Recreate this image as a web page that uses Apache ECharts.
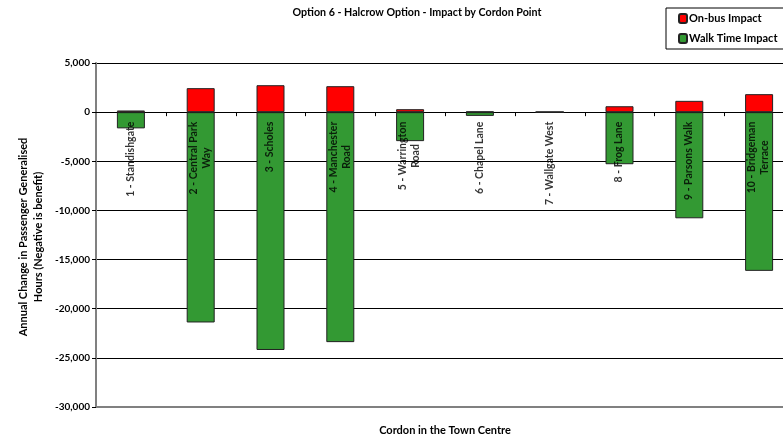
<!DOCTYPE html>
<html><head><meta charset="utf-8">
<script src="https://cdn.jsdelivr.net/npm/echarts@6/dist/echarts.min.js"></script>
<style>html,body{margin:0;padding:0;background:#fff}#c{width:783px;height:440px}</style>
</head><body><div id="c"></div>
<script>
const categories = ['1 - Standishgate', '2 - Central Park\nWay', '3 - Scholes', '4 - Manchester\nRoad', '5 - Warrington\nRoad', '6 - Chapel Lane', '7 - Wallgate West', '8 - Frog Lane', '9 - Parsons Walk', '10 - Bridgeman\nTerrace'];
const onBus = [170, 2440, 2740, 2640, 300, 60, 0, 600, 1150, 1830];
const walkTime = [-1650, -21400, -24200, -23400, -2950, -380, 0, -5300, -10800, -16150];
const yTicks = { min: -30000, max: 5000, interval: 5000 };
const crossValue = 0; // category axis crosses the value axis at zero

const FONT = 'Lato';
const chart = echarts.init(document.getElementById('c'));
chart.setOption({
  animation: false,
  backgroundColor: '#fff',
  textStyle: { fontFamily: FONT },
  title: {
    text: 'Option 6 - Halcrow Option - Impact by Cordon Point',
    left: 412, top: 2, textAlign: 'center',
    textStyle: { fontSize: 10.7, fontWeight: 'bold', color: '#000', fontFamily: FONT }
  },
  legend: {
    orient: 'vertical', left: 666, top: 8,
    itemWidth: 8, itemHeight: 9, itemGap: 9,
    borderColor: '#000', borderWidth: 1, padding: [5, 10, 5, 12],
    backgroundColor: '#fff',
    textStyle: { fontSize: 11, fontWeight: 'bold', color: '#000', fontFamily: FONT, padding: [0, 0, 0, -3] },
    data: ['On-bus Impact', 'Walk Time Impact']
  },
  grid: { left: 96, right: -11, top: 63, bottom: 33, containLabel: false, outerBoundsMode: 'none' },
  xAxis: {
    type: 'category', data: categories,
    axisLine: { show: true, onZero: true, lineStyle: { color: '#000', width: 1 } },
    axisTick: { show: false },
    axisLabel: { show: false }
  },
  yAxis: {
    type: 'value', min: yTicks.min, max: yTicks.max, interval: yTicks.interval,
    axisLine: { show: true, lineStyle: { color: '#808080', width: 2 } },
    axisTick: { show: true, length: 4, lineStyle: { color: '#000' } },
    splitLine: { lineStyle: { color: '#000', width: 1 } },
    axisLabel: {
      color: '#000', fontSize: 10, fontWeight: 'bold', fontFamily: FONT, margin: 6,
      formatter: v => v.toLocaleString('en-US')
    }
  },
  graphic: [{
    type: 'text', x: 31, y: 237, rotation: Math.PI / 2,
    style: {
      text: 'Annual Change in Passenger Generalised\nHours (Negative is benefit)',
      align: 'center', verticalAlign: 'middle', font: 'bold 11px ' + FONT,
      fill: '#000', lineHeight: 15
    }
  }, {
    type: 'text', x: 445, y: 430,
    style: {
      text: 'Cordon in the Town Centre', align: 'center', verticalAlign: 'middle',
      font: 'bold 11px ' + FONT, fill: '#000'
    }
  }],
  series: [{
    name: 'On-bus Impact', type: 'bar', stack: 'a', data: onBus, barWidth: 28,
    itemStyle: { color: '#FF0000', borderColor: '#222', borderWidth: 1 },
    markLine: {
      silent: true, symbol: 'none', label: { show: false },
      lineStyle: { color: '#808080', width: 2, type: 'solid' },
      data: [{ yAxis: yTicks.min }]
    }
  }, {
    name: 'Walk Time Impact', type: 'bar', stack: 'a', data: walkTime, barWidth: 28,
    itemStyle: { color: '#339933', borderColor: '#222', borderWidth: 1 }
  }, {
    name: 'ticks', type: 'custom', silent: true, z: 5,
    data: categories.map((c, i) => [i, crossValue]),
    renderItem: (params, api) => {
      const p = api.coord([api.value(0), api.value(1)]);
      const w = api.size([1, 0])[0];
      const x = Math.round(p[0] + w / 2) + 0.5;
      return { type: 'line', shape: { x1: x, y1: p[1], x2: x, y2: p[1] + 4 }, style: { stroke: '#000', lineWidth: 1 } };
    }
  }, {
    name: 'labels', type: 'scatter', silent: true, z: 10,
    symbolSize: 1, itemStyle: { color: 'rgba(0,0,0,0)' },
    data: categories.map((c, i) => [i, crossValue]),
    label: {
      show: true, position: [0, 10], rotate: 90, align: 'right', verticalAlign: 'middle',
      color: '#000', fontSize: 10.5, fontWeight: 'bold', fontFamily: FONT,
      formatter: p => categories[p.dataIndex].split('\n').map(s => '{c|' + s + '}').join('\n'),
      rich: { c: { align: 'center', fontSize: 10.5, fontWeight: 'bold', fontFamily: FONT, color: '#000', lineHeight: 13 } }
    }
  }]
});
</script></body></html>
